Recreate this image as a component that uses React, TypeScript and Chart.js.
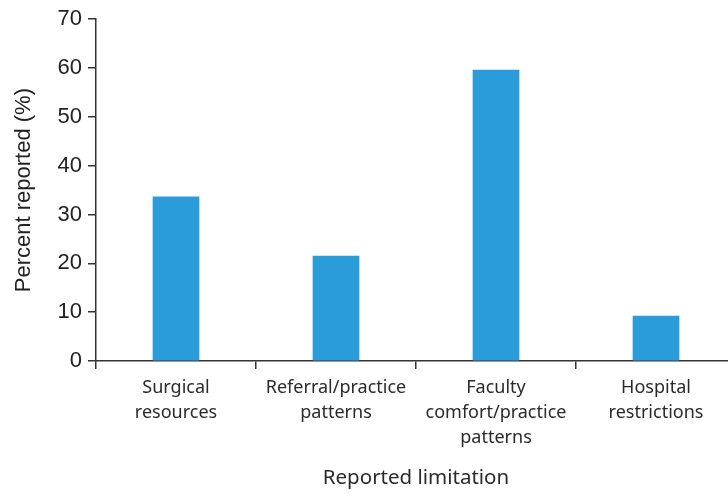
import React, { useEffect, useRef } from "react";
import { Chart, registerables } from "chart.js";

Chart.register(...registerables);

const categories: string[][] = [
  ["Surgical", "resources"],
  ["Referral/practice", "patterns"],
  ["Faculty", "comfort/practice", "patterns"],
  ["Hospital", "restrictions"],
];
const percentReported: number[] = [33.6, 21.5, 59.6, 9.2];
const yTicks: number[] = [0, 10, 20, 30, 40, 50, 60, 70];

export default function App() {
  const ref = useRef<HTMLCanvasElement | null>(null);
  useEffect(() => {
    if (!ref.current) return;
    const chart = new Chart(ref.current, {
      type: "bar",
      data: {
        labels: categories,
        datasets: [
          {
            data: percentReported,
            backgroundColor: "#2B9CDA",
            borderWidth: 0,
            barThickness: 46,
          },
        ],
      },
      options: {
        animation: false,
        responsive: false,
        maintainAspectRatio: false,
        layout: { padding: { top: 19, right: 0, bottom: 0, left: 0 } },
        plugins: { legend: { display: false }, tooltip: { enabled: false } },
        scales: {
          x: {
            grid: {
              display: true,
              drawOnChartArea: false,
              drawTicks: true,
              tickLength: 8,
              color: "#333",
              lineWidth: 1.5,
              offset: true,
            },
            border: { display: true, color: "#333", width: 1.5 },
            ticks: {
              color: "#2a2a2a",
              font: { family: "Noto Sans", size: 18, lineHeight: 25 / 18 },
              padding: 6,
              maxRotation: 0,
              autoSkip: false,
            },
            title: {
              display: true,
              text: "Reported limitation",
              color: "#2a2a2a",
              font: { family: "Noto Sans", size: 20.5, lineHeight: 1.2 },
              padding: { top: 10, bottom: 3 },
            },
            afterFit: (s: any) => {
              s.height = 132;
            },
          },
          y: {
            min: 0,
            max: 70,
            afterBuildTicks: (s: any) => {
              s.ticks = yTicks.map((v) => ({ value: v }));
            },
            grid: {
              display: true,
              drawOnChartArea: false,
              drawTicks: true,
              tickLength: 8,
              color: "#333",
              lineWidth: 1.5,
            },
            border: { display: true, color: "#333", width: 1.5 },
            ticks: {
              color: "#222",
              font: { family: "Liberation Sans", size: 22 },
              padding: 6,
            },
            title: {
              display: true,
              text: "Percent reported (%)",
              color: "#222",
              font: { family: "Liberation Sans", size: 22, lineHeight: 1.2 },
              padding: { top: 11, bottom: 0 },
            },
            afterFit: (s: any) => {
              s.width = 96;
            },
          },
        },
      },
    });
    return () => chart.destroy();
  }, []);
  return (
    <div
      style={{
        position: "fixed",
        left: 0,
        top: 0,
        width: 728,
        height: 493,
        overflow: "hidden",
        background: "#fff",
      }}
    >
      <canvas ref={ref} width={736} height={493} style={{ display: "block", width: 736, height: 493 }} />
    </div>
  );
}
